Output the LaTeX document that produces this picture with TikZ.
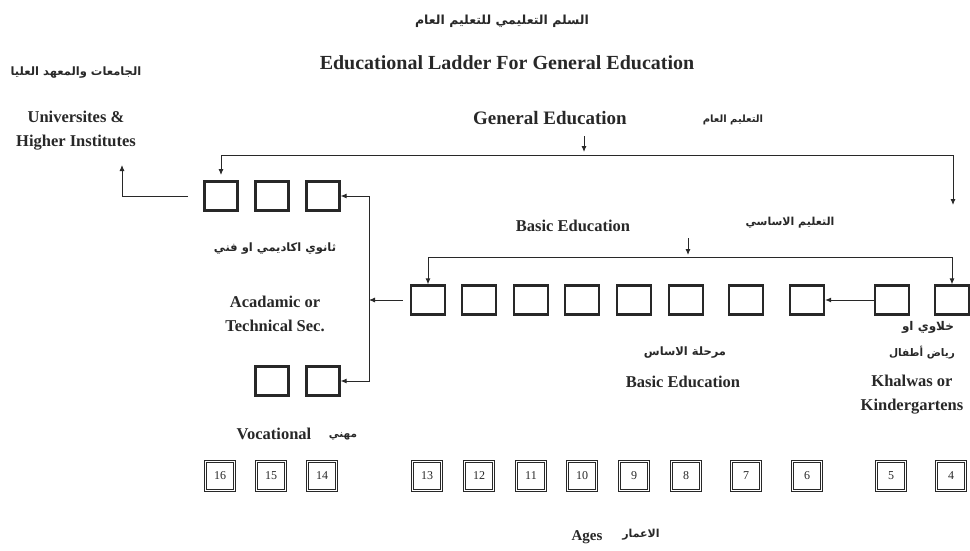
\documentclass[tikz,border=0pt]{standalone}
\usepackage{fontspec}
\setmainfont{Liberation Serif}
\newfontfamily\arabicfont[Script=Arabic]{DejaVu Sans}
\TeXXeTstate=1
\usetikzlibrary{arrows.meta}
\definecolor{ink}{RGB}{40,40,40}
\newcommand{\ar}[1]{{\arabicfont\bfseries\beginR #1\endR}}
\newcommand{\fs}[1]{\fontsize{#1}{#1}\selectfont}
\begin{document}
\begin{tikzpicture}[x=1pt,y=-1pt,
  lbl/.style={font=\bfseries\fontsize{16.5}{24}\selectfont, text=ink, inner sep=0pt, align=center},
  arlbl/.style={font=\fontsize{10.5}{12}\selectfont, text=ink, inner sep=0pt, align=center},
  cell/.style={draw=ink, line width=2.2pt, minimum width=33pt, minimum height=29pt, inner sep=0pt},
  bcell/.style={draw=ink, line width=2.2pt, minimum width=34pt, minimum height=29pt, inner sep=0pt},
  agecell/.style={draw=ink, double=white, double distance=1.2pt, line width=1.2pt, minimum width=29pt, minimum height=29pt, inner sep=0pt, font=\fontsize{12}{12}\selectfont, text=ink},
  conn/.style={draw=ink, line width=0.9pt},
  tip/.style={-{Latex[length=6pt,width=5pt]}},
  tips/.style={{Latex[length=6pt,width=5pt]}-{Latex[length=6pt,width=5pt]}}
]
\useasboundingbox (0,0) rectangle (970,551);

% titles
\node[arlbl, font=\fs{12.5}] (tar) at (502,21) {\ar{السلم التعليمي للتعليم العام}};
\node[lbl, font=\bfseries\fs{20}] (title) at (507,63) {Educational Ladder For General Education};

\node[arlbl, font=\fs{11.5}] (uniar) at (76,73) {\ar{الجامعات والمعهد العليا}};
\node[lbl] (uni) at (76,131) {Universites \&\\Higher Institutes};

\node[lbl, font=\bfseries\fs{19}] (gen) at (550,118) {General Education};
\node[arlbl, font=\fs{10}] (genar) at (733,120) {\ar{التعليم العام}};

\node[lbl] (basic) at (573,226) {Basic Education};
\node[arlbl, font=\fs{11}] (basicar) at (790,223) {\ar{التعليم الاساسي}};

\node[arlbl, font=\fs{11.5}] (secar) at (275,249) {\ar{ثانوي اكاديمي او فني}};
\node[lbl] (sec) at (275,314) {Acadamic or\\Technical Sec.};

\node[arlbl, font=\fs{11.5}] (basar) at (685,353) {\ar{مرحلة الاساس}};
\node[lbl] (bas2) at (683,382) {Basic Education};

\node[arlbl, font=\fs{12}] (kgar1) at (928,327) {\ar{خلاوي او}};
\node[arlbl] (kgar2) at (922,353) {\ar{رياض أطفال}};
\node[lbl] (kg) at (912,395) {Khalwas or\\Kindergartens};

\node[lbl] (voc) at (274,434) {Vocational};
\node[arlbl] (vocar) at (343,436) {\ar{مهني}};

\node[lbl, font=\bfseries\fs{15}] (ages) at (587,537) {Ages};
\node[arlbl, font=\fs{11}] (agesar) at (641,535) {\ar{الاعمار}};

% secondary row
\node[cell] (s1) at (221,196) {};
\node[cell] (s2) at (272,196) {};
\node[cell] (s3) at (323,196) {};
% vocational row
\node[cell] (v1) at (272,381) {};
\node[cell] (v2) at (323,381) {};
% basic row
\foreach \i/\x in {1/428,2/479,3/531,4/582,5/634,6/686,7/746,8/807}
  \node[bcell] (b\i) at (\x,300) {};
\node[bcell] (k1) at (892,300) {};
\node[bcell] (k2) at (952,300) {};

% age row
\foreach \n/\x in {16/220,15/271,14/322,13/427,12/479,11/531,10/582,9/634,8/686,7/746,6/807,5/891,4/951}
  \node[agecell] (a\n) at (\x,476) {\n};

% connectors
\coordinate (gL) at (221,175);
\coordinate (gC) at (953,155);
\coordinate (gR) at (953,205);
\draw[conn,tips] (gL) |- (gC) -- (gR);
\coordinate (gA) at (584,136);
\coordinate (gB) at (584,152);
\draw[conn,tip] (gA) -- (gB);

\coordinate (bC) at (952,257);
\draw[conn,tips] (b1.north) |- (bC) -- (k2.north);
\coordinate (bA) at (688,238);
\coordinate (bB) at (688,255);
\draw[conn,tip] (bA) -- (bB);

\draw[conn,tip] (k1.west) -- (b8.east);

\coordinate (vx) at (369,300);
\draw[conn,tips] (s3.east) -- (s3.east -| vx) -- (v2.east -| vx) -- (v2.east);
\coordinate (b1s) at ([xshift=-7pt]b1.west);
\draw[conn,tip] (b1s) -- (b1s -| vx);

\coordinate (uS) at (188,196);
\coordinate (uT) at (122,165);
\draw[conn,tip] (uS) -| (uT);
\end{tikzpicture}
\end{document}
